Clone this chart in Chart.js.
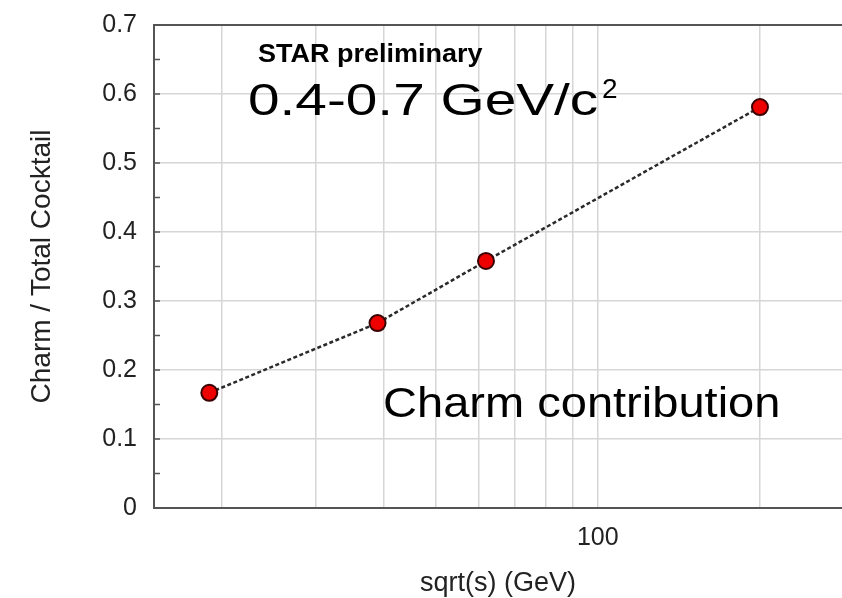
<!DOCTYPE html>
<html>
<head>
<meta charset="utf-8">
<script src="https://cdn.jsdelivr.net/npm/chart.js@4/dist/chart.umd.min.js"></script>
<style>
  html, body { margin: 0; padding: 0; background: #fff; }
  #wrap { width: 842px; height: 598px; }
</style>
</head>
<body>
<div id="wrap"><canvas id="chart" width="842" height="598"></canvas></div>
<script>
// data
const energies = [19, 39, 62, 200];              // sqrt(s) in GeV
const charmFraction = [0.167, 0.268, 0.358, 0.581];
const xGridValues = [20, 30, 40, 50, 60, 70, 80, 90, 100, 200];
const xLabelled = [100];

const FONT = '"Liberation Sans", Arial, Helvetica, sans-serif';

// inward minor ticks on the y axis, like the original plot
const innerTicks = {
    id: 'innerTicks',
    afterDraw(chart) {
        const ctx = chart.ctx;
        const y = chart.scales.y;
        const x = chart.scales.x;
        ctx.save();
        ctx.strokeStyle = '#555';
        ctx.lineWidth = 1.5;
        y.ticks.forEach(t => {
            const py = y.getPixelForValue(t.value);
            ctx.beginPath();
            ctx.moveTo(x.left, py);
            ctx.lineTo(x.left + 6, py);
            ctx.stroke();
        });
        ctx.restore();
    }
};

// text annotations drawn onto the plot area
function stretchedText(ctx, text, x, y, font, sx) {
    ctx.save();
    ctx.font = font;
    ctx.textBaseline = 'alphabetic';
    ctx.textAlign = 'left';
    ctx.translate(x, y);
    ctx.scale(sx, 1);
    ctx.fillText(text, 0, 0);
    ctx.restore();
}

const labelsPlugin = {
    id: 'labelsPlugin',
    afterDatasetsDraw(chart) {
        const ctx = chart.ctx;
        const a = chart.chartArea;
        ctx.save();
        ctx.fillStyle = '#000';
        stretchedText(ctx, 'STAR preliminary', a.left + 104, a.top + 37, 'bold 25px ' + FONT, 1.08);
        stretchedText(ctx, '0.4-0.7 GeV/c', a.left + 94, a.top + 90, '44px ' + FONT, 1.29);
        stretchedText(ctx, '2', a.left + 448, a.top + 73, '28px ' + FONT, 1.0);
        stretchedText(ctx, 'Charm contribution', a.left + 229, a.top + 392, '42px ' + FONT, 1.12);
        ctx.restore();
    }
};

new Chart(document.getElementById('chart'), {
    type: 'line',
    data: {
        datasets: [{
            data: energies.map((e, i) => ({ x: e, y: charmFraction[i] })),
            borderColor: '#2a2a2a',
            borderWidth: 2.5,
            borderDash: [4, 2.5],
            tension: 0,
            fill: false,
            pointRadius: 8,
            pointHoverRadius: 8,
            pointBackgroundColor: '#ee0000',
            pointBorderColor: '#3a0000',
            pointBorderWidth: 2,
            clip: false
        }]
    },
    options: {
        responsive: false,
        animation: false,
        layout: { autoPadding: false, padding: { top: 25, right: 0, left: 0, bottom: 0 } },
        plugins: {
            legend: { display: false },
            tooltip: { enabled: false }
        },
        scales: {
            x: {
                type: 'logarithmic',
                min: 15,
                max: 284,
                afterBuildTicks: scale => {
                    scale.ticks = xGridValues.map(v => ({ value: v }));
                },
                afterFit: scale => {
                    scale.height = 90;
                    scale.paddingLeft = 0;
                    scale.paddingRight = 0;
                },
                grid: {
                    color: '#d6d6d6',
                    lineWidth: 1.5,
                    drawTicks: false
                },
                border: { color: '#555', width: 2 },
                ticks: {
                    padding: 15,
                    maxRotation: 0,
                    autoSkip: false,
                    color: '#222',
                    font: { family: FONT, size: 25 },
                    callback: v => xLabelled.includes(v) ? String(v) : ''
                },
                title: {
                    display: true,
                    text: 'sqrt(s) (GeV)',
                    color: '#222',
                    font: { family: FONT, size: 27, lineHeight: 1 },
                    padding: { top: 0, bottom: 1 }
                }
            },
            y: {
                min: 0,
                max: 0.7,
                afterFit: scale => {
                    scale.width = 154;
                    scale.paddingTop = 0;
                    scale.paddingBottom = 0;
                },
                grid: {
                    color: c => {
                        const k = Math.round(c.tick.value * 100);
                        if (k === 70) return '#555';
                        return k % 10 === 0 ? '#d6d6d6' : 'rgba(0,0,0,0)';
                    },
                    lineWidth: c => Math.round(c.tick.value * 100) === 70 ? 2 : 1.5,
                    drawTicks: false
                },
                border: { color: '#555', width: 2 },
                ticks: {
                    stepSize: 0.05,
                    padding: 17,
                    color: '#222',
                    font: { family: FONT, size: 25 },
                    callback: v => {
                        const k = Math.round(v * 100);
                        if (k % 10 !== 0) return '';
                        return k === 0 ? '0' : (k / 100).toFixed(1);
                    }
                },
                title: {
                    display: true,
                    text: 'Charm / Total Cocktail',
                    color: '#222',
                    font: { family: FONT, size: 28, lineHeight: 1 },
                    padding: { top: 28, bottom: 0 }
                }
            }
        }
    },
    plugins: [innerTicks, labelsPlugin]
});
</script>
</body>
</html>
